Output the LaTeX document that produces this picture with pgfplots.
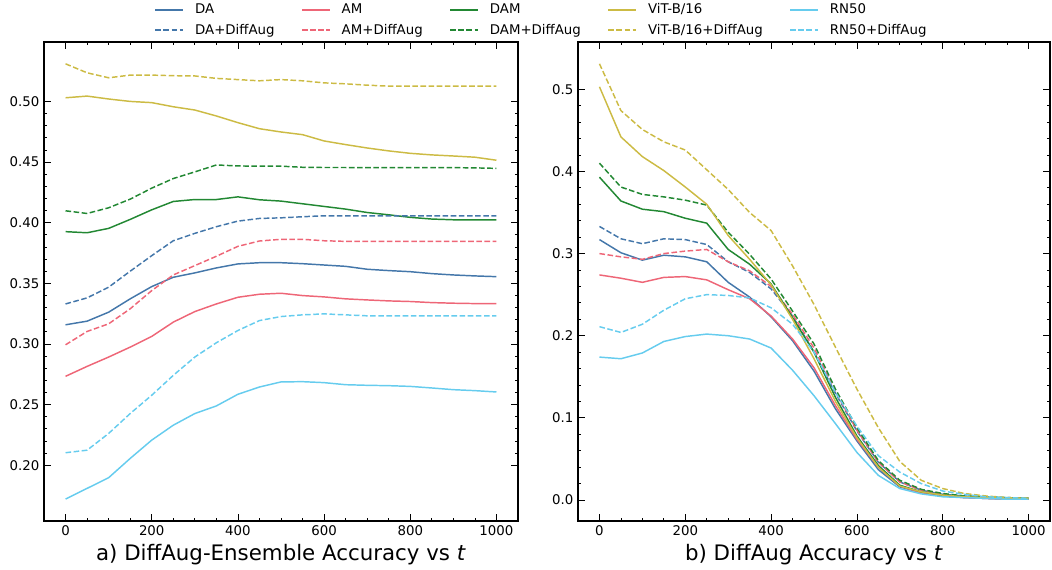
\documentclass[border=0pt]{standalone}
\usepackage{fontspec}
\setmainfont{DejaVu Sans}
\usepackage{pgfplots}
\pgfplotsset{compat=1.18}
\usepackage{pgfplotstable}

\definecolor{cDA}{HTML}{4477AA}
\definecolor{cAM}{HTML}{EE6677}
\definecolor{cDAM}{HTML}{228833}
\definecolor{cViT}{HTML}{CCBB44}
\definecolor{cRN}{HTML}{66CCEE}

% legend text: left aligned in a box as wide as #2, with fixed gaps around it
\newcommand\lgt[2]{\kern6.25pt\makebox[0pt][l]{#1}\phantom{#2}\kern18pt}
\newcommand\lgtlast[2]{\kern6.25pt\makebox[0pt][l]{#1}\phantom{#2}}

% ensemble accuracy (panel a)
\pgfplotstableread{
t    DA     DAd    AM     AMd    DAM    DAMd   ViT    ViTd   RN     RNd
0    0.3158 0.3330 0.2733 0.2993 0.3926 0.4098 0.5030 0.5310 0.1721 0.2103
50   0.3188 0.3380 0.2815 0.3103 0.3917 0.4076 0.5044 0.5236 0.1809 0.2124
100  0.3262 0.3468 0.2892 0.3166 0.3953 0.4123 0.5020 0.5195 0.1897 0.2262
150  0.3372 0.3600 0.2974 0.3290 0.4027 0.4194 0.5000 0.5217 0.2056 0.2426
200  0.3473 0.3728 0.3062 0.3440 0.4106 0.4285 0.4990 0.5217 0.2207 0.2577
250  0.3550 0.3851 0.3180 0.3569 0.4175 0.4364 0.4956 0.5212 0.2330 0.2741
300  0.3586 0.3912 0.3267 0.3646 0.4191 0.4419 0.4929 0.5210 0.2426 0.2892
350  0.3627 0.3967 0.3330 0.3723 0.4191 0.4476 0.4880 0.5190 0.2489 0.3010
400  0.3660 0.4013 0.3385 0.3805 0.4213 0.4468 0.4825 0.5180 0.2585 0.3111
450  0.3670 0.4035 0.3410 0.3849 0.4189 0.4466 0.4775 0.5170 0.2645 0.3193
500  0.3670 0.4040 0.3418 0.3863 0.4178 0.4466 0.4748 0.5180 0.2687 0.3226
550  0.3662 0.4049 0.3399 0.3863 0.4156 0.4457 0.4726 0.5170 0.2689 0.3240
600  0.3651 0.4057 0.3388 0.3851 0.4134 0.4455 0.4674 0.5153 0.2681 0.3248
650  0.3640 0.4057 0.3372 0.3846 0.4112 0.4455 0.4644 0.5145 0.2664 0.3240
700  0.3616 0.4057 0.3363 0.3846 0.4084 0.4454 0.4616 0.5134 0.2659 0.3232
750  0.3605 0.4057 0.3355 0.3846 0.4065 0.4454 0.4592 0.5126 0.2656 0.3232
800  0.3596 0.4057 0.3350 0.3846 0.4044 0.4454 0.4572 0.5126 0.2650 0.3232
850  0.3580 0.4057 0.3341 0.3846 0.4030 0.4454 0.4559 0.5126 0.2637 0.3232
900  0.3569 0.4057 0.3336 0.3846 0.4024 0.4454 0.4550 0.5126 0.2623 0.3232
950  0.3561 0.4057 0.3333 0.3846 0.4024 0.4452 0.4540 0.5126 0.2615 0.3232
1000 0.3555 0.4057 0.3333 0.3846 0.4024 0.4448 0.4515 0.5126 0.2604 0.3232
}\ensemble

% single-model accuracy (panel b)
\pgfplotstableread{
t    DA     DAd    AM     AMd    DAM    DAMd   ViT    ViTd   RN     RNd
0    0.317  0.333  0.274  0.300  0.393  0.410  0.503  0.531  0.174  0.211
50   0.301  0.318  0.270  0.296  0.364  0.381  0.442  0.474  0.172  0.204
100  0.292  0.312  0.265  0.293  0.354  0.372  0.418  0.451  0.179  0.214
150  0.298  0.318  0.271  0.300  0.351  0.369  0.401  0.436  0.193  0.231
200  0.296  0.317  0.272  0.303  0.343  0.365  0.381  0.426  0.199  0.245
250  0.290  0.311  0.268  0.305  0.337  0.359  0.360  0.402  0.202  0.250
300  0.265  0.290  0.256  0.290  0.305  0.326  0.322  0.378  0.200  0.249
350  0.247  0.277  0.245  0.279  0.287  0.299  0.293  0.350  0.196  0.246
400  0.223  0.257  0.224  0.260  0.263  0.269  0.262  0.328  0.185  0.234
450  0.194  0.224  0.196  0.226  0.222  0.230  0.220  0.285  0.158  0.214
500  0.157  0.180  0.161  0.185  0.180  0.190  0.172  0.238  0.127  0.180
550  0.111  0.130  0.115  0.132  0.125  0.135  0.120  0.186  0.093  0.131
600  0.072  0.084  0.074  0.085  0.078  0.088  0.076  0.135  0.058  0.090
650  0.037  0.046  0.040  0.046  0.042  0.048  0.040  0.088  0.030  0.054
700  0.016  0.022  0.017  0.022  0.018  0.024  0.017  0.047  0.014  0.034
750  0.009  0.012  0.009  0.012  0.010  0.013  0.010  0.024  0.0075 0.020
800  0.005  0.007  0.005  0.007  0.006  0.008  0.006  0.014  0.004  0.011
850  0.003  0.005  0.003  0.004  0.004  0.005  0.004  0.008  0.003  0.007
900  0.002  0.003  0.002  0.003  0.003  0.004  0.003  0.005  0.002  0.004
950  0.001  0.002  0.001  0.002  0.002  0.003  0.002  0.003  0.001  0.003
1000 0.001  0.002  0.001  0.001  0.002  0.002  0.002  0.002  0.001  0.002
}\single

\pgfplotsset{
  sci/.style={
    scale only axis,
    height=359.25pt,
    xmin=-50, xmax=1050,
    xtick={0,200,...,1000},
    xticklabel style={/pgf/number format/1000 sep={}},
    minor x tick num=3,
    minor y tick num=4,
    tick align=inside,
    xtick pos=both, ytick pos=both,
    major tick length=5pt, minor tick length=2.6pt,
    every tick/.style={black, line width=0.6pt},
    axis line style={black, line width=0.8pt},
    tick label style={font=\fontsize{10}{12}\selectfont},
    /pgf/number format/assume math mode=true,
    scaled y ticks=false,
    xlabel style={font=\fontsize{16}{19}\selectfont, at={(axis description cs:0.5,0)}, anchor=base, yshift=-29.5pt},
    every axis plot/.append style={line width=1.1pt},
    dsh/.style={dash pattern=on 4.2pt off 1.9pt},
  },
}

\begin{document}
\begin{tikzpicture}
\path[use as bounding box] (-33pt,-36pt) rectangle (756pt,390.75pt);

\begin{axis}[sci,
  width=355.5pt,
  ymin=0.154, ymax=0.549,
  ytick={0.20,0.25,...,0.51},
  yticklabel style={/pgf/number format/.cd, fixed, fixed zerofill, precision=2},
  xlabel={a) DiffAug-Ensemble Accuracy vs \textit{t}},
  legend columns=5,
  legend image code/.code={\draw[#1] (0pt,0pt) -- (21pt,0pt);},
  legend style={draw=none, fill=none, font=\fontsize{10}{12}\selectfont,
    at={(axis description cs:1.0504,1.046)}, anchor=center,
    row sep=2pt},
]
\addplot[cDA] table[x=t,y=DA] {\ensemble}; \addlegendentry{\lgt{DA}{DA+DiffAug}}
\addplot[cAM] table[x=t,y=AM] {\ensemble}; \addlegendentry{\lgt{AM}{AM+DiffAug}}
\addplot[cDAM] table[x=t,y=DAM] {\ensemble}; \addlegendentry{\lgt{DAM}{DAM+DiffAug}}
\addplot[cViT] table[x=t,y=ViT] {\ensemble}; \addlegendentry{\lgt{ViT-B/16}{ViT-B/16+DiffAug}}
\addplot[cRN] table[x=t,y=RN] {\ensemble}; \addlegendentry{\lgtlast{RN50}{RN50+DiffAug}}
\addplot[cDA, dsh] table[x=t,y=DAd] {\ensemble}; \addlegendentry{\lgt{DA+DiffAug}{DA+DiffAug}}
\addplot[cAM, dsh] table[x=t,y=AMd] {\ensemble}; \addlegendentry{\lgt{AM+DiffAug}{AM+DiffAug}}
\addplot[cDAM, dsh] table[x=t,y=DAMd] {\ensemble}; \addlegendentry{\lgt{DAM+DiffAug}{DAM+DiffAug}}
\addplot[cViT, dsh] table[x=t,y=ViTd] {\ensemble}; \addlegendentry{\lgt{ViT-B/16+DiffAug}{ViT-B/16+DiffAug}}
\addplot[cRN, dsh] table[x=t,y=RNd] {\ensemble}; \addlegendentry{\lgtlast{RN50+DiffAug}{RN50+DiffAug}}
\end{axis}

\begin{axis}[sci,
  at={(400.5pt,0pt)},
  width=354pt,
  ymin=-0.0255, ymax=0.5575,
  ytick={0,0.1,...,0.51},
  yticklabel style={/pgf/number format/.cd, fixed, fixed zerofill, precision=1},
  xlabel={b) DiffAug Accuracy vs \textit{t}},
]
\addplot[cDA] table[x=t,y=DA] {\single};
\addplot[cDA, dsh] table[x=t,y=DAd] {\single};
\addplot[cAM] table[x=t,y=AM] {\single};
\addplot[cAM, dsh] table[x=t,y=AMd] {\single};
\addplot[cDAM] table[x=t,y=DAM] {\single};
\addplot[cDAM, dsh] table[x=t,y=DAMd] {\single};
\addplot[cViT] table[x=t,y=ViT] {\single};
\addplot[cViT, dsh] table[x=t,y=ViTd] {\single};
\addplot[cRN] table[x=t,y=RN] {\single};
\addplot[cRN, dsh] table[x=t,y=RNd] {\single};
\end{axis}
\end{tikzpicture}
\end{document}
